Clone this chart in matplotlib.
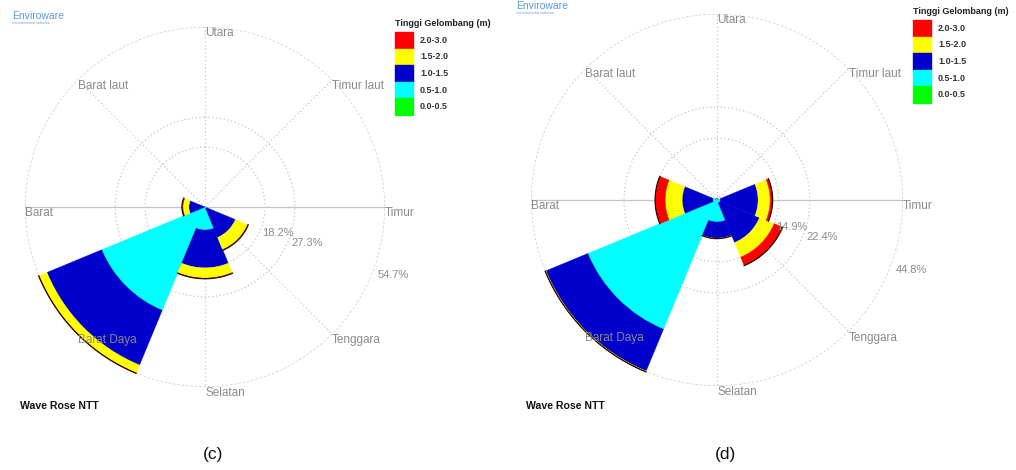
import numpy as np
import matplotlib

matplotlib.use("Agg")
import matplotlib.pyplot as plt
from matplotlib.patches import Rectangle

plt.rcParams["font.family"] = ["Liberation Sans", "DejaVu Sans"]

# sectors, clockwise from north
directions = ["Utara", "Timur laut", "Timur", "Tenggara",
              "Selatan", "Barat Daya", "Barat", "Barat laut"]
bearings = [0, 45, 90, 135, 180, 225, 270, 315]

bin_labels = ["0.0-0.5", "0.5-1.0", "1.0-1.5", "1.5-2.0", "2.0-3.0"]
bin_colors = ["#00ff00", "#00ffff", "#0000cd", "#ffff00", "#ff0000"]

# (c) frequency in % per sector and height bin
c_green = [0, 0, 0, 0, 0, 0, 0, 0]
c_cyan = [0, 0, 0, 0.5, 7.0, 34.0, 0, 0]
c_blue = [0, 0, 0, 9.5, 11.5, 18.0, 4.9, 0]
c_yellow = [0, 0, 0, 4.0, 3.1, 2.6, 1.8, 0]
c_red = [0, 0, 0, 0.2, 0.2, 0.1, 0.3, 0]
c_rings = [18.2, 27.3, 54.7]

# (d)
d_green = [0, 0, 0, 0, 0, 0, 0, 0]
d_cyan = [0.3, 0.3, 0.8, 0.8, 5.3, 33.7, 1.0, 0.4]
d_blue = [0, 0, 9.1, 10.3, 3.9, 10.9, 7.4, 0]
d_yellow = [0, 0, 2.9, 3.8, 0.1, 0.15, 4.1, 0]
d_red = [0, 0, 0.6, 2.2, 0, 0.05, 2.4, 0]
d_rings = [14.9, 22.4, 44.8]

W, H = 1016, 470
fig = plt.figure(figsize=(W / 100, H / 100), dpi=100)
GRID = "#c4c4c4"
LBL = "#8a8a8a"


def px_rect(x, y, w, h):
    # pixel box (top-left origin) -> figure fraction
    return [x / W, 1 - (y + h) / H, w / W, h / H]


def rose(cx, cy, R, series, rings, legend_x, legend_y, logo_xy, tag):
    ax = fig.add_axes(px_rect(cx - R, cy - R, 2 * R, 2 * R), projection="polar")
    ax.set_theta_zero_location("N")
    ax.set_theta_direction(-1)
    rmax = rings[-1]
    ax.set_ylim(0, rmax)
    ax.axis("off")

    th = np.linspace(0, 2 * np.pi, 400)
    for r in rings:
        ax.plot(th, np.full_like(th, r), ls=(0, (1, 2)) if r != rmax else (0, (2, 1.5)),
                color=GRID, lw=0.9, zorder=1)
    for b in bearings:
        ls = "-" if b in (90, 270) else (0, (1, 2))
        ax.plot([np.radians(b)] * 2, [0, rmax], color=GRID, lw=0.9, ls=ls, zorder=1)

    theta = np.radians(bearings)
    width = np.radians(45)
    bottom = np.zeros(len(bearings))
    for vals, col in zip(series, bin_colors):
        vals = np.array(vals, dtype=float)
        ax.bar(theta, vals, width=width, bottom=bottom, color=col,
               edgecolor=col, lw=0.3, clip_on=False, zorder=3)
        bottom += vals
    # thin dark rim at the outer end of each petal
    for t, tot in zip(theta, bottom):
        if tot > 5:
            a = np.linspace(t - width / 2, t + width / 2, 40)
            ax.plot(a, np.full_like(a, tot), color="#201000", lw=0.9,
                    clip_on=False, zorder=4)

    for name, b in zip(directions, bearings):
        ax.text(np.radians(b), rmax * 1.0, name, ha="left", va="top",
                fontsize=8.5, color=LBL, zorder=5)
    for r in rings:
        ax.text(np.radians(110), r * 1.02, f"{r:.1f}%", ha="left", va="top",
                fontsize=8, color=LBL, zorder=5)

    # legend
    lx, ly = legend_x, legend_y
    fig.text(lx / W, 1 - (ly - 8) / H, "Tinggi Gelombang (m)", fontsize=6.5,
             fontweight="bold", color="#222222", va="center")
    bh = 16.6
    for i, (lab, col) in enumerate(zip(bin_labels[::-1], bin_colors[::-1])):
        y0 = ly + i * bh
        fig.patches.append(Rectangle((lx / W, 1 - (y0 + bh) / H), 18 / W, bh / H,
                                     transform=fig.transFigure, color=col))
        fig.text((lx + 25) / W, 1 - (y0 + bh / 2) / H, lab, fontsize=6.5,
                 fontweight="bold", color="#333333", va="center")

    gx, gy = logo_xy
    fig.text(gx / W, 1 - gy / H, "Enviroware", fontsize=7.5, color="#5b9bd5",
             va="center")
    fig.text(gx / W, 1 - (gy + 7) / H, "environmental software", fontsize=2.6,
             color="#7a9cc0", va="center")
    fig.text((cx - R - 5) / W, 1 - 406 / H, "Wave Rose NTT", fontsize=7.6,
             fontweight="bold", color="#111111", va="center")
    fig.text((cx + 8) / W, 1 - 455 / H, tag, fontsize=12.5, ha="center",
             va="center", color="#111111")


rose(205, 207, 180, [c_green, c_cyan, c_blue, c_yellow, c_red], c_rings,
     395, 32, (12, 16), "(c)")
rose(717, 200, 186, [d_green, d_cyan, d_blue, d_yellow, d_red], d_rings,
     913, 20, (516, 6), "(d)")

fig.savefig("out.png", dpi=100)
